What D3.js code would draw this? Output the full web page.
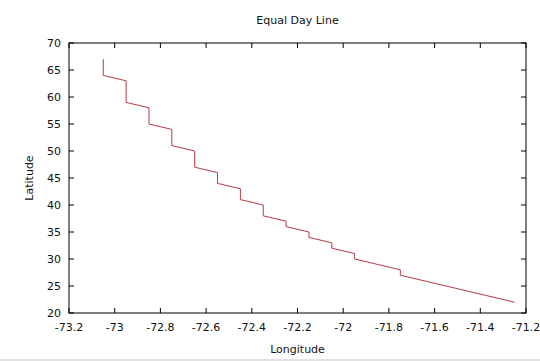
<!DOCTYPE html>
<html>
<head>
<meta charset="utf-8">
<script src="https://cdn.jsdelivr.net/npm/d3@7"></script>
<style>
  body { margin: 0; background: #fff; }
  text { font-family: "DejaVu Sans", sans-serif; font-size: 11px; fill: #111; }
</style>
</head>
<body>
<script>
// data
var lon = [-73.05, -73.05, -72.95, -72.95, -72.85, -72.85, -72.75, -72.75, -72.65, -72.65,
           -72.55, -72.55, -72.45, -72.45, -72.35, -72.35, -72.25, -72.25, -72.15, -72.15,
           -72.05, -72.05, -71.95, -71.95, -71.75, -71.75, -71.25];
var lat = [67, 64, 63, 59, 58, 55, 54, 51, 50, 47,
           46, 44, 43, 41, 40, 38, 37, 36, 35, 34,
           33, 32, 31, 30, 28, 27, 22];
var xTicks = [-73.2, -73, -72.8, -72.6, -72.4, -72.2, -72, -71.8, -71.6, -71.4, -71.2];
var yTicks = [20, 25, 30, 35, 40, 45, 50, 55, 60, 65, 70];

var width = 540, height = 361;
var m = {left: 69, right: 14, top: 43, bottom: 48};

var svg = d3.select("body").append("svg")
    .attr("width", width)
    .attr("height", height);

var x = d3.scaleLinear().domain([-73.2, -71.2]).range([m.left, width - m.right]);
var y = d3.scaleLinear().domain([20, 70]).range([height - m.bottom, m.top]);

var tl = 5; // gnuplot style inward ticks

// bottom + top ticks
xTicks.forEach(function(t) {
  svg.append("line").attr("x1", x(t)).attr("x2", x(t))
     .attr("y1", y(20)).attr("y2", y(20) - tl).attr("stroke", "#000");
  svg.append("line").attr("x1", x(t)).attr("x2", x(t))
     .attr("y1", y(70)).attr("y2", y(70) + tl).attr("stroke", "#000");
  svg.append("text").attr("x", x(t)).attr("y", y(20) + 18)
     .style("text-anchor", "middle").text(String(t)); // plain hyphen like gnuplot
});

// left + right ticks
yTicks.forEach(function(t) {
  svg.append("line").attr("x1", x(-73.2)).attr("x2", x(-73.2) + tl)
     .attr("y1", y(t)).attr("y2", y(t)).attr("stroke", "#000");
  svg.append("line").attr("x1", x(-71.2)).attr("x2", x(-71.2) - tl)
     .attr("y1", y(t)).attr("y2", y(t)).attr("stroke", "#000");
  svg.append("text").attr("x", x(-73.2) - 8).attr("y", y(t)).attr("dy", ".35em")
     .style("text-anchor", "end").text(t);
});

// frame
svg.append("rect")
   .attr("x", x(-73.2)).attr("y", y(70))
   .attr("width", x(-71.2) - x(-73.2)).attr("height", y(20) - y(70))
   .attr("fill", "none").attr("stroke", "#000");

var line = d3.line()
    .x(function(d) { return x(d[0]); })
    .y(function(d) { return y(d[1]); });

svg.append("path")
   .attr("d", line(lon.map(function(d, i) { return [d, lat[i]]; })))
   .attr("fill", "none")
   .attr("stroke", "#b83a48")
   .attr("stroke-width", 1);

svg.append("text").attr("x", (x(-73.2) + x(-71.2)) / 2).attr("y", 24)
   .style("text-anchor", "middle").text("Equal Day Line");

svg.append("text").attr("x", (x(-73.2) + x(-71.2)) / 2).attr("y", 353)
   .style("text-anchor", "middle").text("Longitude");

svg.append("text")
   .attr("transform", "translate(33," + (y(20) + y(70)) / 2 + ") rotate(-90)")
   .style("text-anchor", "middle").text("Latitude");

// thin grey strip at the very bottom of the screenshot
svg.append("rect").attr("x", 0).attr("y", height - 2)
   .attr("width", width).attr("height", 2).attr("fill", "#e2e2e2");
</script>
</body>
</html>
